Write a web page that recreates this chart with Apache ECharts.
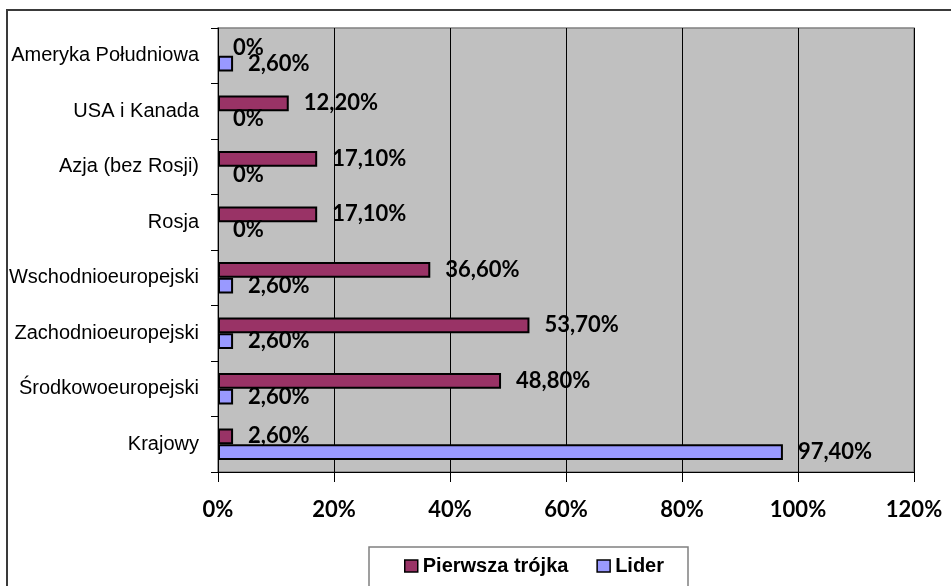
<!DOCTYPE html>
<html>
<head>
<meta charset="utf-8">
<script src="https://cdn.jsdelivr.net/npm/echarts@6/dist/echarts.min.js"></script>
<style>
	html, body { margin: 0; padding: 0; background: #ffffff; }
	#wykres { width: 951px; height: 586px; }
</style>
</head>
<body>
<div id="wykres"></div>
<script>
	// kategorie od góry do dołu
	var kategorie = ['Ameryka Południowa', 'USA i Kanada', 'Azja (bez Rosji)', 'Rosja',
		'Wschodnioeuropejski', 'Zachodnioeuropejski', 'Środkowoeuropejski', 'Krajowy'];
	var pierwszaTrojka = [0, 12.2, 17.1, 17.1, 36.6, 53.7, 48.8, 2.6];
	var lider = [2.6, 0, 0, 0, 2.6, 2.6, 2.6, 97.4];
	var osX = [0, 20, 40, 60, 80, 100, 120];

	var fontNarrow = '"Liberation Sans Narrow", "Arial Narrow", "Liberation Sans", sans-serif';
	var fontLiczby = 'Lato, "Open Sans", sans-serif';

	function etykieta(p){
		if (p.value === 0) return '0%';
		return p.value.toFixed(2).replace('.', ',') + '%';
	}

	// słupki o wartości 0 bez obramowania (w Excelu ich nie widać)
	function dane(arr){
		return arr.map(function(v){
			return v === 0 ? { value: 0, itemStyle: { borderWidth: 0 } } : v;
		});
	}

	function seria(nazwa, wartosci, kolor){
		return {
			name: nazwa,
			type: 'bar',
			data: dane(wartosci),
			barGap: '0%',
			barCategoryGap: '43%',
			itemStyle: { color: kolor, borderColor: '#000000', borderWidth: 2 },
			label: {
				show: true,
				position: 'right',
				distance: 15,
				formatter: etykieta,
				color: '#000000',
				fontFamily: fontLiczby,
				fontWeight: 'bold',
				fontSize: 22
			}
		};
	}

	var wykres = echarts.init(document.getElementById('wykres'));
	wykres.setOption({
		backgroundColor: '#ffffff',
		animation: false,
		graphic: [
			{
				type: 'rect',
				shape: { x: 7, y: 10, width: 980, height: 620 },
				style: { fill: null, stroke: '#3a3a3a', lineWidth: 2 },
				silent: true
			},
			{
				type: 'rect',
				shape: { x: 369, y: 547, width: 319, height: 40 },
				style: { fill: '#ffffff', stroke: '#808080', lineWidth: 1.5 },
				silent: true,
				z: -1
			}
		],
		grid: {
			left: 218,
			top: 28,
			width: 696,
			height: 444,
			outerBoundsMode: 'none',
			containLabel: false,
			show: true,
			backgroundColor: '#c0c0c0',
			borderColor: '#808080',
			borderWidth: 1.5
		},
		legend: {
			left: 404,
			top: 556,
			padding: 0,
			itemGap: 28,
			itemWidth: 13,
			itemHeight: 12,
			icon: 'rect',
			itemStyle: { borderColor: '#000000', borderWidth: 1.5 },
			textStyle: { fontFamily: fontNarrow, fontWeight: 'bold', fontSize: 20, color: '#000000' },
			data: ['Pierwsza trójka', 'Lider']
		},
		xAxis: {
			type: 'value',
			min: osX[0],
			max: osX[osX.length - 1],
			interval: osX[1] - osX[0],
			axisLine: { show: true, lineStyle: { color: '#000000', width: 1 } },
			axisTick: { show: true, length: 10, lineStyle: { color: '#000000' } },
			axisLabel: {
				margin: 27,
				color: '#000000',
				fontFamily: fontLiczby,
				fontWeight: 'bold',
				fontSize: 22,
				formatter: function(v){ return v + '%'; }
			},
			splitLine: { show: true, lineStyle: { color: '#000000', width: 1 } }
		},
		yAxis: {
			type: 'category',
			inverse: true,
			data: kategorie,
			axisLine: { show: true, lineStyle: { color: '#000000', width: 1 } },
			axisTick: { show: true, length: 7, lineStyle: { color: '#000000' } },
			axisLabel: {
				margin: 19,
				color: '#000000',
				fontFamily: fontNarrow,
				fontSize: 20
			}
		},
		series: [
			seria('Pierwsza trójka', pierwszaTrojka, '#993366'),
			seria('Lider', lider, '#9999ff')
		]
	});
</script>
</body>
</html>
